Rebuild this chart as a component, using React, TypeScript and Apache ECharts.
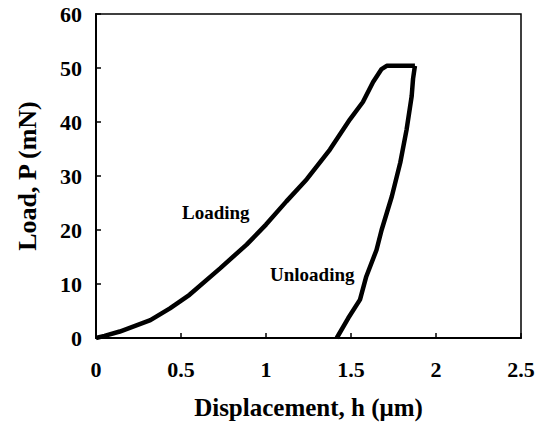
import React, { useEffect, useRef } from "react";
import * as echarts from "echarts";

const loadingH = [0, 0.05, 0.14, 0.32, 0.435, 0.55, 0.73, 0.886, 1.0, 1.12, 1.24, 1.376, 1.494, 1.57, 1.63, 1.68, 1.71, 1.876];
const loadingP = [0, 0.4, 1.2, 3.3, 5.5, 8, 12.9, 17.3, 21, 25.3, 29.4, 34.9, 40.5, 43.7, 47.4, 49.8, 50.4, 50.4];
const unloadingH = [1.876, 1.865, 1.857, 1.827, 1.79, 1.74, 1.68, 1.65, 1.59, 1.553, 1.484, 1.416];
const unloadingP = [50.4, 48, 44.8, 38.6, 32.5, 26.2, 20, 16.3, 11.4, 7.1, 3.7, 0];
const xTicks = ["0", "0.5", "1", "1.5", "2", "2.5"];
const yTicks = ["0", "10", "20", "30", "40", "50", "60"];

const FONT = "'Liberation Serif', 'Times New Roman', serif";

export default function App() {
  const ref = useRef<HTMLDivElement>(null);
  useEffect(() => {
    const chart = echarts.init(ref.current!, null, { renderer: "svg" });
    const lineStyle = { color: "#000", width: 4.5 };
    chart.setOption({
      animation: false,
      backgroundColor: "#fff",
      grid: {
        left: 96,
        right: 21,
        top: 14,
        bottom: 87,
        show: true,
        borderColor: "#000",
        borderWidth: 1.5,
        containLabel: false,
        outerBoundsMode: "none",
      },
      xAxis: {
        type: "value",
        min: 0,
        max: 2.5,
        interval: 0.5,
        axisLine: { show: true, lineStyle: { color: "#000", width: 2 } },
        axisTick: { show: true, inside: true, length: 5, lineStyle: { color: "#000", width: 1.5 } },
        splitLine: { show: false },
        axisLabel: {
          color: "#000",
          fontFamily: FONT,
          fontWeight: "bold",
          fontSize: 22,
          margin: 20,
          formatter: (v: number) => xTicks[Math.round(v / 0.5)] ?? String(v),
        },
        name: "Displacement, h (μm)",
        nameLocation: "middle",
        nameGap: 57,
        nameTextStyle: { color: "#000", fontFamily: FONT, fontWeight: "bold", fontSize: 25 },
      },
      yAxis: {
        type: "value",
        min: 0,
        max: 60,
        interval: 10,
        axisLine: { show: true, lineStyle: { color: "#000", width: 2 } },
        axisTick: { show: true, inside: true, length: 5, lineStyle: { color: "#000", width: 1.5 } },
        splitLine: { show: false },
        axisLabel: {
          color: "#000",
          fontFamily: FONT,
          fontWeight: "bold",
          fontSize: 22,
          margin: 14,
          formatter: (v: number) => yTicks[Math.round(v / 10)] ?? String(v),
        },
        name: "Load, P (mN)",
        nameLocation: "middle",
        nameGap: 56,
        nameTextStyle: { color: "#000", fontFamily: FONT, fontWeight: "bold", fontSize: 26 },
      },
      series: [
        {
          type: "line",
          data: loadingH.map((h, i) => [h, loadingP[i]]),
          showSymbol: false,
          lineStyle,
          silent: true,
        },
        {
          type: "line",
          data: unloadingH.map((h, i) => [h, unloadingP[i]]),
          showSymbol: false,
          lineStyle,
          silent: true,
        },
      ],
      graphic: [
        {
          type: "text",
          left: 182,
          top: 203,
          style: { text: "Loading", fill: "#000", font: `bold 19px ${FONT}` },
        },
        {
          type: "text",
          left: 270,
          top: 265,
          style: { text: "Unloading", fill: "#000", font: `bold 19px ${FONT}` },
        },
      ],
    });
    return () => chart.dispose();
  }, []);
  return <div ref={ref} style={{ width: 542, height: 425, position: "absolute", left: 0, top: 0 }} />;
}
